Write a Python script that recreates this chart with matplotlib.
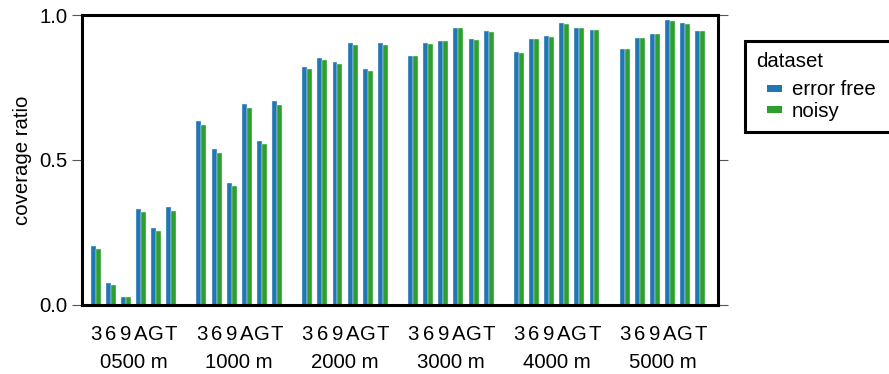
import matplotlib
matplotlib.use("Agg")
import matplotlib.pyplot as plt
from matplotlib.patches import Rectangle
from matplotlib.legend_handler import HandlerPatch
import numpy as np

plt.rcParams['font.family'] = ['Liberation Sans', 'DejaVu Sans']

# Data: coverage ratio per distance group and sub-category
groups = ["0500 m", "1000 m", "2000 m", "3000 m", "4000 m", "5000 m"]
subcats = ["3", "6", "9", "A", "G", "T"]
series = ["error free", "noisy"]
colors = ["#1f77b4", "#2ca02c"]

error_free = [
    [0.201, 0.073, 0.027, 0.331, 0.266, 0.337],
    [0.636, 0.536, 0.419, 0.693, 0.566, 0.704],
    [0.820, 0.851, 0.837, 0.903, 0.814, 0.904],
    [0.859, 0.904, 0.912, 0.957, 0.917, 0.945],
    [0.873, 0.917, 0.927, 0.973, 0.955, 0.949],
    [0.883, 0.922, 0.936, 0.983, 0.972, 0.947],
]
noisy = [
    [0.192, 0.069, 0.025, 0.319, 0.255, 0.323],
    [0.622, 0.523, 0.409, 0.680, 0.554, 0.689],
    [0.816, 0.845, 0.830, 0.897, 0.808, 0.898],
    [0.859, 0.902, 0.911, 0.955, 0.913, 0.942],
    [0.871, 0.917, 0.926, 0.971, 0.955, 0.948],
    [0.883, 0.921, 0.935, 0.982, 0.970, 0.947],
]

FS = 14.7
W, H = 889, 374
fig = plt.figure(figsize=(W / 100, H / 100), dpi=100)
ax = fig.add_axes([82 / W, 1 - 304.5 / H, (717.7 - 82) / W, (304.5 - 15.3) / H])

stride = len(subcats) + 1
bar_w = 0.33
positions = []
labels = []
for g, gname in enumerate(groups):
    x = g * stride + np.arange(len(subcats))
    for s, vals in enumerate([error_free[g], noisy[g]]):
        off = (s - 0.5) * bar_w
        ax.bar(x + off, vals, width=bar_w, color=colors[s],
               edgecolor="#e8f0f8", linewidth=0.3)
    positions.extend(x)
    labels.extend(subcats)
    ax.text(x.mean(), -0.2, gname, transform=ax.get_xaxis_transform(),
            ha="center", va="center", fontsize=FS)

ax.set_xlim(-0.9, 41.15)
ax.set_ylim(0, 1.0)
ax.set_yticks([0.0, 0.5, 1.0])
ax.set_yticklabels(["0.0", "0.5", "1.0"])
ax.set_xticks(positions)
ax.set_xticklabels(labels)

ax.tick_params(axis="x", length=0, pad=15, labelsize=FS)
ax.tick_params(axis="y", left=True, right=True, labelright=False,
               direction="out", length=7.2, width=0.8, color="#555555",
               pad=3.4, labelsize=FS)
for sp in ax.spines.values():
    sp.set_linewidth(2.2)
    sp.set_color("black")

ax.set_ylabel("coverage ratio", fontsize=FS, labelpad=5)


class IndentedPatch(HandlerPatch):
    """Small swatch drawn at the right end of the handle slot."""
    def create_artists(self, legend, orig_handle, xdescent, ydescent,
                       width, height, fontsize, trans):
        pw = 0.7 * fontsize
        ph = 0.34 * fontsize
        r = Rectangle((-xdescent + width - pw, -ydescent + (height - ph) / 2),
                      pw, ph, facecolor=orig_handle.get_facecolor(),
                      edgecolor="none", transform=trans)
        return [r]


handles = [Rectangle((0, 0), 1, 1, facecolor=c) for c in colors]
leg = fig.legend(handles, series, title="dataset", loc="upper left",
                 bbox_to_anchor=(745 / W, 0.3, 0.2, (1 - 41 / H) - 0.3),
                 mode="expand", borderaxespad=0, fontsize=FS,
                 title_fontsize=FS, frameon=True, fancybox=False,
                 alignment="left", borderpad=0.55, labelspacing=0.12,
                 handlelength=1.25, handletextpad=0.5,
                 handler_map={Rectangle: IndentedPatch()})
leg._legend_box.sep = 0.45 * FS
fr = leg.get_frame()
fr.set_edgecolor("black")
fr.set_linewidth(2.2)
fr.set_alpha(None)
fr.set_facecolor("white")

fig.savefig("out.png", dpi=100)
